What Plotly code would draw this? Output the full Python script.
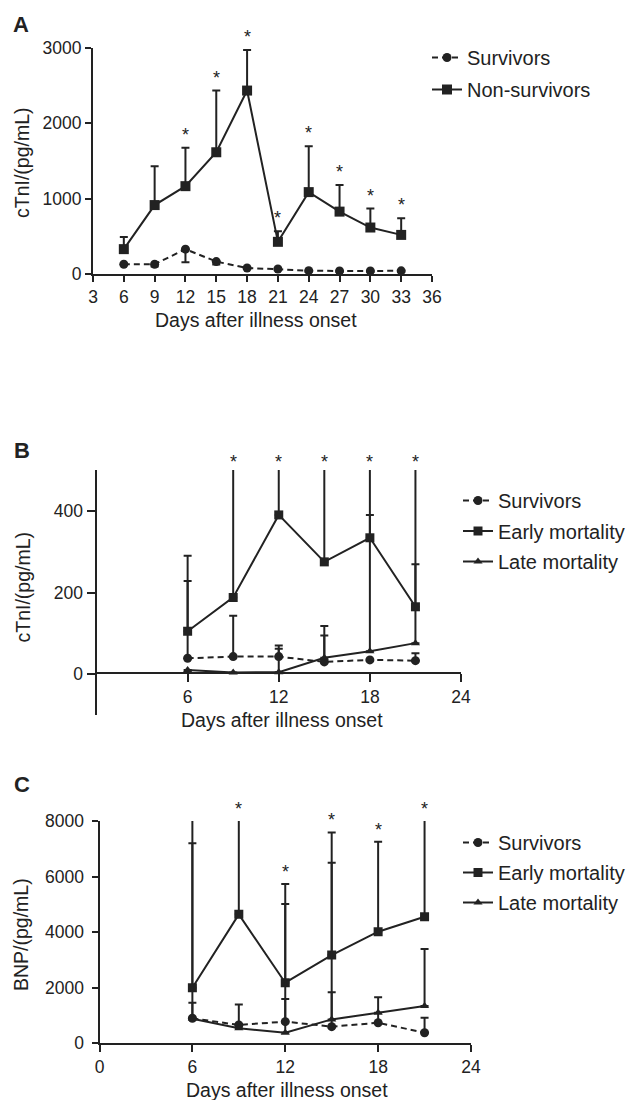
import plotly.graph_objects as go

# ---------------- data ----------------
# Panel A: cTnI, survivors vs non-survivors
days_a = [6, 9, 12, 15, 18, 21, 24, 27, 30, 33]
a_surv = [130, 130, 330, 165, 80, 66, 44, 40, 40, 42]
a_surv_err = [0, 30, 175, 40, 15, 15, 10, 10, 10, 10]      # drawn downward
a_non = [330, 915, 1166, 1616, 2435, 427, 1087, 828, 617, 519]
a_non_err = [160, 515, 509, 819, 537, 140, 608, 352, 251, 221]  # drawn upward
a_sig = [0, 0, 1, 1, 1, 1, 1, 1, 1, 1]
a_xticks = [3, 6, 9, 12, 15, 18, 21, 24, 27, 30, 33, 36]
a_yticks = [0, 1000, 2000, 3000]

# Panel B: cTnI, survivors / early mortality / late mortality
days_bc = [6, 9, 12, 15, 18, 21]
b_surv = [39, 43, 43, 30, 35, 33]
b_surv_err = [189, 100, 27, 65, 0, 18]
b_early = [105, 188, 390, 275, 334, 165]
b_early_err = [185, 420, 220, 330, 270, 440]
b_late = [10, 4, 5, 40, 56, 76]
b_late_err = [0, 0, 57, 78, 334, 193]
b_sig = [0, 1, 1, 1, 1, 1]
b_xticks = [6, 12, 18, 24]
b_yticks = [0, 200, 400]

# Panel C: BNP
c_surv = [900, 660, 780, 600, 740, 380]
c_surv_err = [560, 740, 810, 1235, 915, 540]
c_early = [2000, 4640, 2180, 3176, 4015, 4555]
c_early_err = [6500, 4000, 3550, 4414, 3235, 4000]
c_late = [880, 540, 380, 860, 1100, 1340]
c_late_err = [6320, 0, 4630, 5640, 0, 2050]
c_sig = [0, 1, 1, 1, 1, 1]
c_xticks = [0, 6, 12, 18, 24]
c_yticks = [0, 2000, 4000, 6000, 8000]

# ---------------- style ----------------
W, H = 637, 1100
INK = "#222222"
FONT = "Liberation Sans, Arial, sans-serif"
TICK_SIZE = 17.5
TITLE_SIZE = 19.5
LEG_SIZE = 20

def px_x(p):
    return p / W

def px_y(p):
    return 1 - p / H

fig = go.Figure()

def add_series(x, y, err, name, symbol, size, dash, xa, ya, legend, down=False):
    zeros = [0] * len(err)
    fig.add_trace(go.Scatter(
        x=x, y=y, name=name, mode="lines+markers",
        xaxis=xa, yaxis=ya, legend=legend, legendgroup=legend + name,
        line=dict(color=INK, width=2, dash=dash),
        marker=dict(symbol=symbol, size=size, color=INK, line=dict(width=0)),
        error_y=dict(type="data", symmetric=False,
                     array=zeros if down else err,
                     arrayminus=err if down else zeros,
                     color=INK, thickness=2, width=4),
    ))

DASH = "6px,4px"
# Panel A
add_series(days_a, a_surv, a_surv_err, "Survivors", "circle", 9, DASH, "x", "y", "legend", down=True)
add_series(days_a, a_non, a_non_err, "Non-survivors", "square", 10, "solid", "x", "y", "legend")
# Panel B
add_series(days_bc, b_surv, b_surv_err, "Survivors", "circle", 9, DASH, "x2", "y2", "legend2")
add_series(days_bc, b_early, b_early_err, "Early mortality", "square", 9, "solid", "x2", "y2", "legend2")
add_series(days_bc, b_late, b_late_err, "Late mortality", "triangle-up", 8, "solid", "x2", "y2", "legend2")
# Panel C
add_series(days_bc, c_surv, c_surv_err, "Survivors", "circle", 9, DASH, "x3", "y3", "legend3")
add_series(days_bc, c_early, c_early_err, "Early mortality", "square", 9, "solid", "x3", "y3", "legend3")
add_series(days_bc, c_late, c_late_err, "Late mortality", "triangle-up", 8, "solid", "x3", "y3", "legend3")

axis_common = dict(showline=True, linewidth=2, linecolor=INK, ticks="outside",
                   tickwidth=2, tickcolor=INK, showgrid=False, zeroline=False,
                   tickfont=dict(family=FONT, size=TICK_SIZE, color=INK))

fig.update_layout(
    width=W, height=H, margin=dict(l=0, r=0, t=0, b=0, autoexpand=False),
    paper_bgcolor="white", plot_bgcolor="white",
    font=dict(family=FONT, color=INK),
    xaxis=dict(axis_common, domain=[px_x(93), px_x(432)], range=[3, 36],
               tickvals=a_xticks, ticklen=6, anchor="y"),
    yaxis=dict(axis_common, domain=[px_y(274), px_y(48)], range=[0, 3000],
               tickvals=a_yticks, ticklen=6, anchor="x"),
    xaxis2=dict(axis_common, domain=[px_x(96.5), px_x(461)], range=[0, 24],
                tickvals=b_xticks, ticklen=8, anchor="free", position=px_y(673.3)),
    yaxis2=dict(axis_common, domain=[px_y(715), px_y(470)], range=[-100, 500],
                tickvals=b_yticks, ticklen=8, anchor="x2"),
    xaxis3=dict(axis_common, domain=[px_x(99.5), px_x(471)], range=[0, 24],
                tickvals=c_xticks, ticklen=7, anchor="y3"),
    yaxis3=dict(axis_common, domain=[px_y(1043.3), px_y(821)], range=[0, 8000],
                tickvals=c_yticks, ticklen=6, ticklabelstandoff=4, anchor="x3"),
)

leg_common = dict(font=dict(family=FONT, size=LEG_SIZE, color=INK), bgcolor="rgba(0,0,0,0)",
                  xanchor="left", yanchor="top", itemwidth=30)
fig.update_layout(
    legend=dict(leg_common, x=px_x(427), y=px_y(38), tracegroupgap=3),
    legend2=dict(leg_common, x=px_x(458), y=px_y(481), tracegroupgap=1.5),
    legend3=dict(leg_common, x=px_x(458), y=px_y(823), tracegroupgap=1),
)

annotations = []

def add_stars(x, y, err, sig, xref, yref, ymax, shift):
    for xi, yi, ei, si in zip(x, y, err, sig):
        if si:
            top = min(yi + ei, ymax)
            annotations.append(dict(x=xi, y=top, xref=xref, yref=yref, text="*",
                                    showarrow=False, yanchor="middle", yshift=shift,
                                    font=dict(family=FONT, size=18, color=INK)))

add_stars(days_a, a_non, a_non_err, a_sig, "x", "y", 3000, 13)
add_stars(days_bc, b_early, b_early_err, b_sig, "x2", "y2", 500, 8)
add_stars(days_bc, c_early, c_early_err, c_sig, "x3", "y3", 8000, 12)

def add_text(text, xp, yp, size, angle=0, bold=False):
    annotations.append(dict(x=px_x(xp), y=px_y(yp), xref="paper", yref="paper",
                            text=f"<b>{text}</b>" if bold else text, showarrow=False,
                            xanchor="center", yanchor="middle", textangle=angle,
                            font=dict(family=FONT, size=size, color=INK)))

# panel letters
add_text("A", 21, 25, 22, bold=True)
add_text("B", 22, 451, 22, bold=True)
add_text("C", 22, 784, 22, bold=True)
# axis titles
add_text("Days after illness onset", 256, 320, TITLE_SIZE)
add_text("Days after illness onset", 282, 720, TITLE_SIZE)
add_text("Days after illness onset", 287, 1090, TITLE_SIZE)
add_text("cTnI/(pg/mL)", 22, 163, TITLE_SIZE, angle=-90)
add_text("cTnI/(pg/mL)", 22.5, 587, TITLE_SIZE, angle=-90)
add_text("BNP/(pg/mL)", 21, 935, TITLE_SIZE, angle=-90)

fig.update_layout(annotations=annotations)
fig.write_html("out.html", config={"displayModeBar": False},
               post_script="document.body.style.margin='0px';")
